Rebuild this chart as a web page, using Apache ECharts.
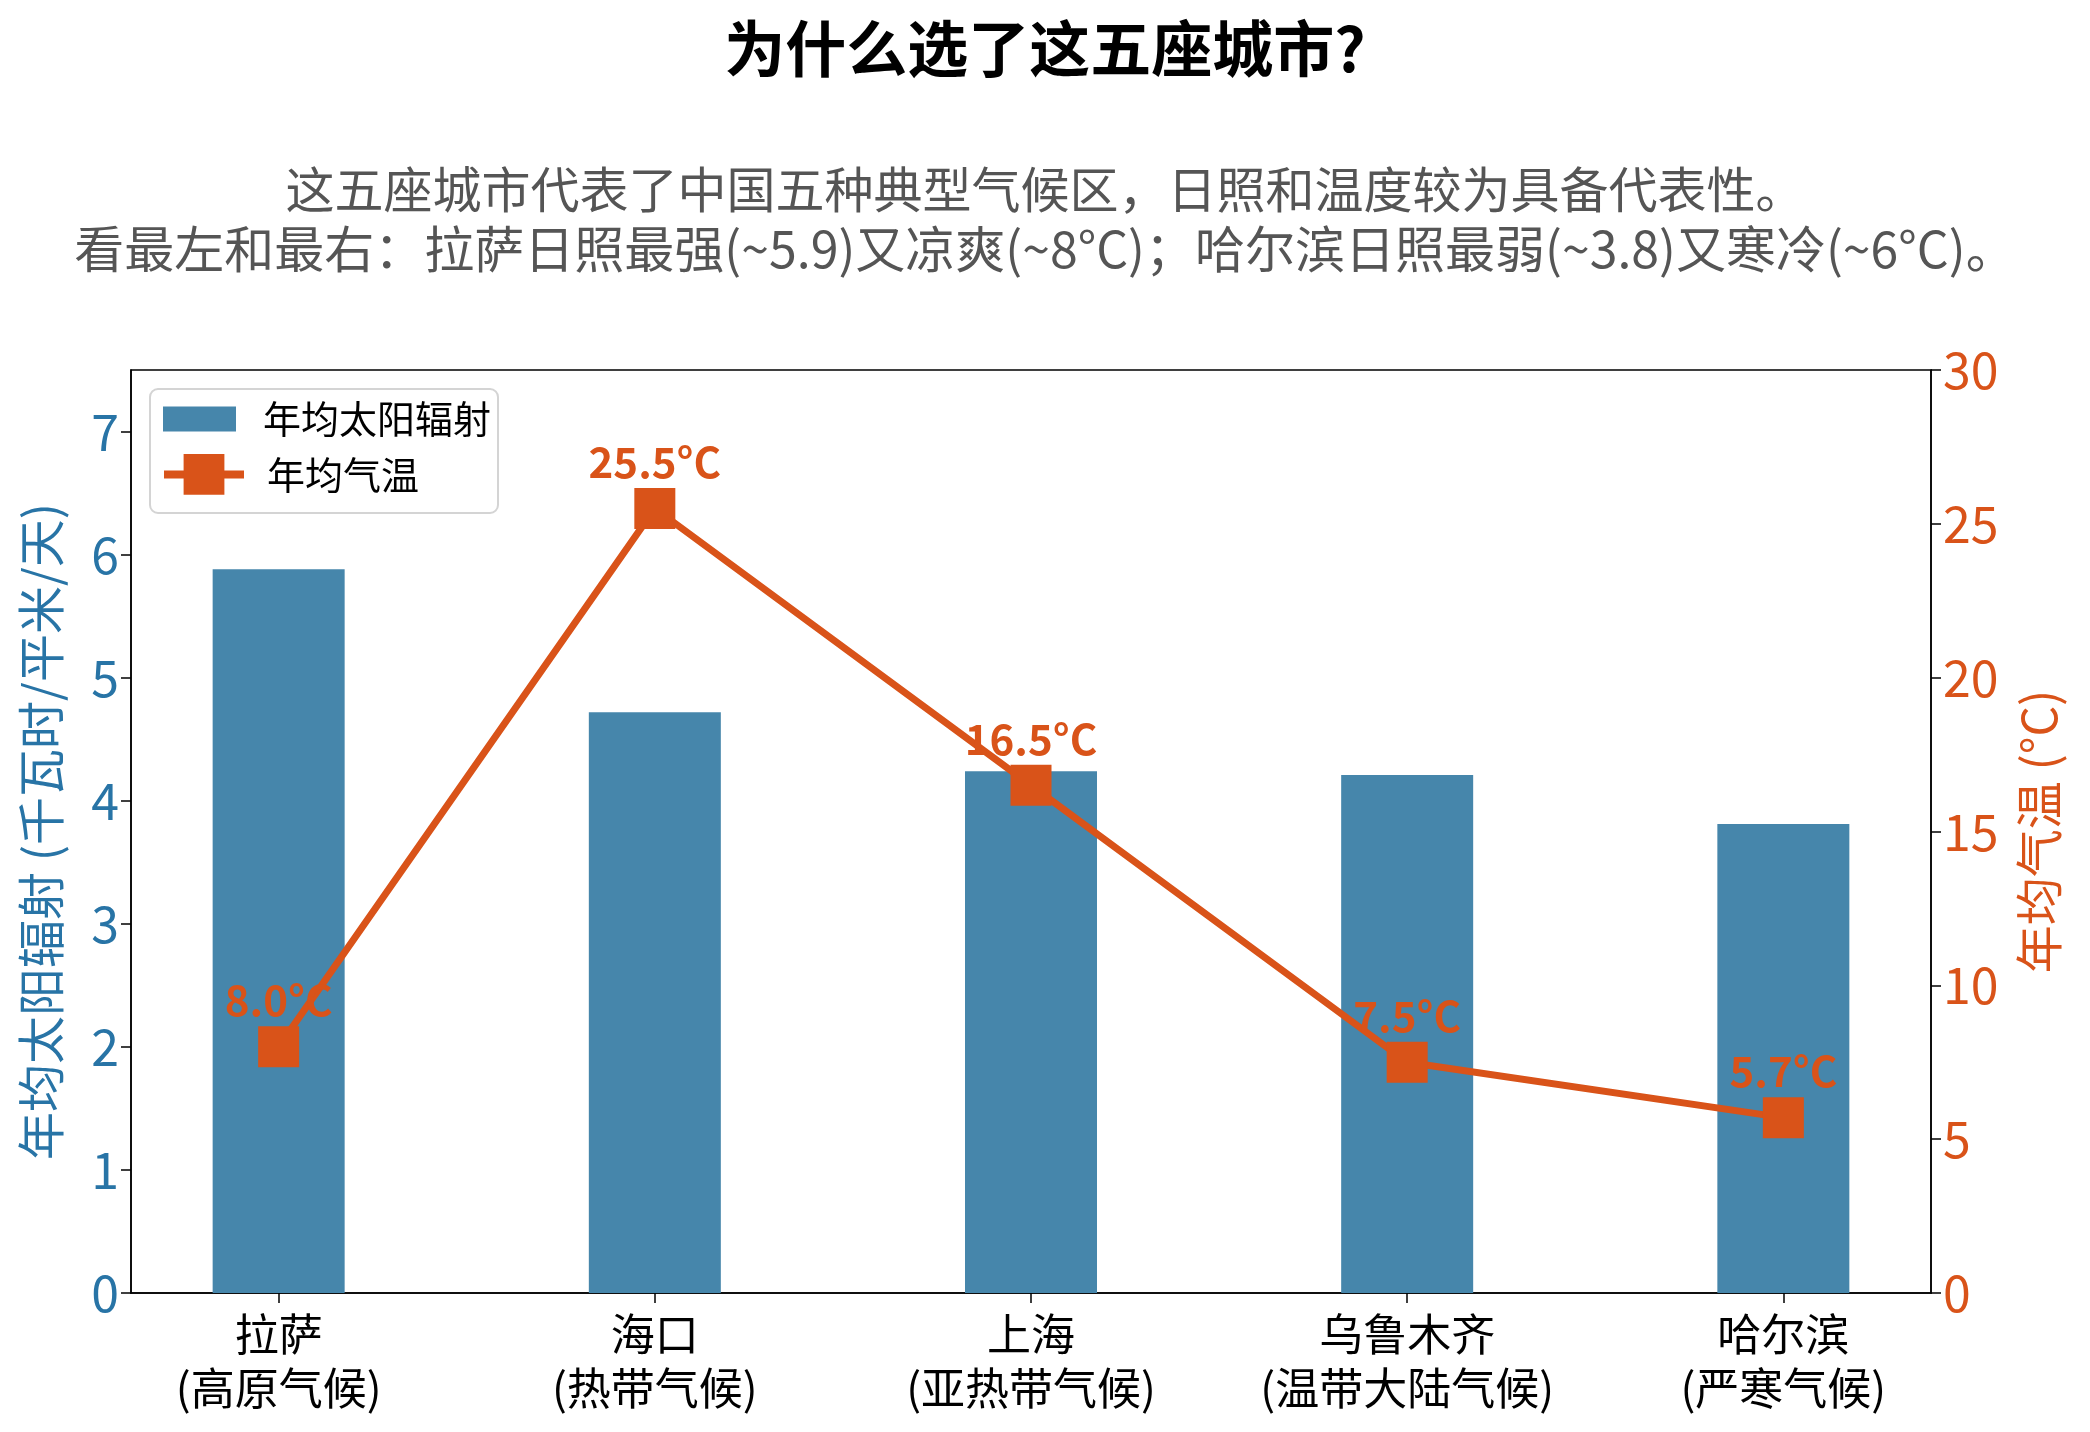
<!DOCTYPE html>
<html>
<head>
<meta charset="utf-8">
<script src="https://cdn.jsdelivr.net/npm/echarts@6/dist/echarts.min.js"></script>
<style>
html,body{margin:0;padding:0;background:#fff;}
#chart{width:2090px;height:1432px;}
</style>
</head>
<body>
<div id="chart"></div>
<script>
var cities = ['拉萨', '海口', '上海', '乌鲁木齐', '哈尔滨'];
var climates = ['(高原气候)', '(热带气候)', '(亚热带气候)', '(温带大陆气候)', '(严寒气候)'];
var solar = [5.88, 4.72, 4.24, 4.21, 3.81];
var temps = [8.0, 25.5, 16.5, 7.5, 5.7];
var leftTicks = [0, 1, 2, 3, 4, 5, 6, 7];
var catPositions = [0, 1, 2, 3, 4];
var titleText = '为什么选了这五座城市?';
var subLine1 = '这五座城市代表了中国五种典型气候区，日照和温度较为具备代表性。';
var subLine2 = '看最左和最右：拉萨日照最强(~5.9)又凉爽(~8°C)；哈尔滨日照最弱(~3.8)又寒冷(~6°C)。';

var FONT = '"Noto Sans CJK SC", "Noto Sans", sans-serif';
var BLUE_TXT = '#2874A6';
var BAR = '#4686AB';
var ORANGE = '#D95319';

var chart = echarts.init(document.getElementById('chart'));
var option = {
  backgroundColor: '#fff',
  animation: false,
  textStyle: { fontFamily: FONT },
  title: [
    { text: titleText, left: 'center', top: 17, padding: 0,
      textStyle: { fontFamily: FONT, fontSize: 61, fontWeight: 'bold', color: '#000', lineHeight: 64 } },
    { text: subLine1, left: 'center', top: 159, padding: 0,
      textStyle: { fontFamily: FONT, fontSize: 49, fontWeight: 'normal', color: '#555555', lineHeight: 60 } },
    { text: subLine2, left: 'center', top: 219, padding: 0,
      textStyle: { fontFamily: FONT, fontSize: 50, fontWeight: 'normal', color: '#555555', lineHeight: 60 } }
  ],
  grid: { left: 131, right: 159, top: 370, bottom: 139, show: true, borderColor: '#000', borderWidth: 1.5, backgroundColor: 'transparent' },
  legend: [
    { data: [{ name: '年均太阳辐射', icon: 'rect' }], left: 163, top: 400, itemWidth: 73, itemHeight: 25, padding: 0,
      textStyle: { fontFamily: FONT, fontSize: 38, color: '#000', padding: [0, 0, 0, 22] } },
    { data: ['年均气温'], left: 160, top: 454, itemWidth: 80, itemHeight: 51, padding: 0,
      lineStyle: { width: 8 },
      textStyle: { fontFamily: FONT, fontSize: 38, color: '#000', padding: [0, 0, 0, 18] } }
  ],
  graphic: [
    { type: 'rect', left: 149, top: 388, z: -1,
      shape: { width: 348, height: 124, r: 8 },
      style: { fill: 'rgba(255,255,255,0.8)', stroke: '#d4d4d4', lineWidth: 2 } }
  ],
  xAxis: {
    type: 'value', min: -0.3925, max: 4.3925,
    axisLine: { show: true, onZero: false, lineStyle: { color: '#000', width: 1.5 } },
    axisTick: { show: true, length: 10, lineStyle: { color: '#000', width: 1.5 }, customValues: catPositions },
    axisLabel: { show: true, customValues: catPositions, margin: 14, color: '#000', fontSize: 44, lineHeight: 54, fontFamily: FONT,
      formatter: function (v) { var i = Math.round(v); return cities[i] + '\n' + climates[i]; } },
    splitLine: { show: false }
  },
  yAxis: [
    { type: 'value', min: 0, max: 7.5, position: 'left',
      name: '年均太阳辐射 (千瓦时/平米/天)', nameLocation: 'middle', nameGap: 66,
      nameTextStyle: { color: BLUE_TXT, fontSize: 48, fontFamily: FONT },
      axisLine: { show: true, onZero: false, lineStyle: { color: '#000', width: 1.5 } },
      axisTick: { show: true, length: 10, customValues: leftTicks, lineStyle: { color: '#000', width: 1.5 } },
      axisLabel: { customValues: leftTicks, color: BLUE_TXT, fontSize: 50, margin: 12, fontFamily: FONT },
      splitLine: { show: false } },
    { type: 'value', min: 0, max: 30, interval: 5, position: 'right',
      name: '年均气温 (°C)', nameLocation: 'middle', nameGap: 84,
      nameTextStyle: { color: ORANGE, fontSize: 48, fontFamily: FONT },
      axisLine: { show: true, onZero: false, lineStyle: { color: '#000', width: 1.5 } },
      axisTick: { show: true, length: 10, lineStyle: { color: '#000', width: 1.5 } },
      axisLabel: { color: ORANGE, fontSize: 50, margin: 12, fontFamily: FONT },
      splitLine: { show: false } }
  ],
  series: [
    { name: '年均太阳辐射', type: 'bar', xAxisIndex: 0, yAxisIndex: 0, barWidth: 132,
      itemStyle: { color: BAR },
      data: solar.map(function (v, i) { return [catPositions[i], v]; }) },
    { name: '年均气温', type: 'line', xAxisIndex: 0, yAxisIndex: 1,
      symbol: 'rect', symbolSize: 41,
      lineStyle: { color: ORANGE, width: 7 },
      itemStyle: { color: ORANGE },
      label: { show: true, position: 'top', distance: 5, color: ORANGE, fontWeight: 'bold', fontSize: 42, fontFamily: FONT,
        formatter: function (p) { return p.value[1].toFixed(1) + '°C'; } },
      data: temps.map(function (v, i) { return [catPositions[i], v]; }) }
  ]
};
chart.setOption(option);
</script>
</body>
</html>
